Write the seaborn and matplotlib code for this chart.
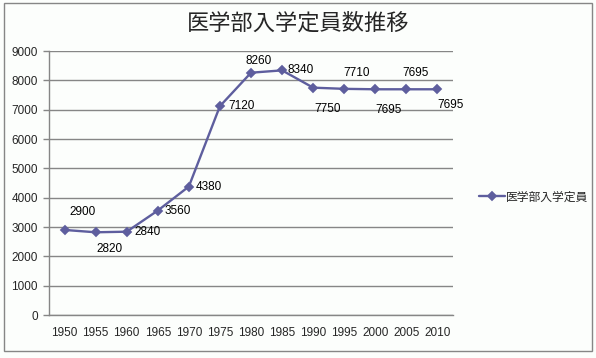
import matplotlib
matplotlib.use("Agg")
import matplotlib.pyplot as plt
from matplotlib.patches import Rectangle
from matplotlib.ticker import FixedLocator
import seaborn as sns

# データ
years = ["1950", "1955", "1960", "1965", "1970", "1975", "1980",
         "1985", "1990", "1995", "2000", "2005", "2010"]
capacity = [2900, 2820, 2840, 3560, 4380, 7120, 8260,
            8340, 7750, 7710, 7695, 7695, 7695]
# ラベル位置 (px オフセット)
label_dx = [18, 14, 21, 20, 20, 22, 8, 19, 14, 12, 13, 9, 13]
label_dy = [18, -17, 0, 0, 0, 0, 12, 0, -21, 16, -21, 16, -16]

title = "医学部入学定員数推移"
series_name = "医学部入学定員"
line_color = "#5E5E9E"
grid_color = "#868686"

sns.set_theme(style="white")
plt.rcParams['font.family'] = ['Liberation Sans', 'Noto Sans CJK JP']

fig = plt.figure(figsize=(5.96, 3.58), dpi=100, facecolor="#fcfefc")
ax = fig.add_axes([49 / 596, 1 - 315 / 358, (453 - 49) / 596, (315 - 51) / 358])
ax.set_facecolor("#fcfefc")

sns.pointplot(x=years, y=capacity, ax=ax, color=line_color, markers="D",
              markersize=4.5, linewidth=1.7, label=series_name, errorbar=None)

for i, (v, dx, dy) in enumerate(zip(capacity, label_dx, label_dy)):
    ax.annotate(str(v), (i, v), xytext=(dx, dy), textcoords="offset pixels",
                ha="center", va="center", fontsize=8.5, color="black")

ax.set_ylim(0, 9000)
ax.set_yticks(range(0, 9001, 1000))
ax.set_xlim(-0.5, len(years) - 0.5)
ax.xaxis.set_minor_locator(FixedLocator([i - 0.5 for i in range(len(years) + 1)]))
ax.tick_params(axis="x", which="major", length=0, pad=9, labelsize=8.5)
ax.tick_params(axis="x", which="minor", length=4, width=1, color=grid_color, direction="out")
ax.tick_params(axis="y", length=4, width=1, color=grid_color, direction="out", pad=4, labelsize=8.5, left=True)
ax.set_xlabel("")
ax.set_ylabel("")
ax.yaxis.grid(True, color=grid_color, linewidth=1)
ax.xaxis.grid(False)
for s in ["top", "right"]:
    ax.spines[s].set_visible(False)
for s in ["left", "bottom"]:
    ax.spines[s].set_color(grid_color)
    ax.spines[s].set_linewidth(1)

if ax.get_legend() is not None:
    ax.get_legend().remove()
handles, labels = ax.get_legend_handles_labels()
fig.legend(handles[:1], labels[:1], loc="center left", bbox_to_anchor=(468 / 596, 1 - 197 / 358),
           frameon=False, handlelength=2.2, handletextpad=0.1,
           prop={"family": ["Noto Sans CJK JP"], "size": 8.5})

fig.text(0.5, 1 - 23 / 358, title, ha="center", va="center", fontsize=16,
         family=["Noto Sans CJK JP"])

fig.patches.append(Rectangle((4 / 596, 1 - 351 / 358), 588 / 596, 348 / 358,
                             transform=fig.transFigure, fill=False,
                             edgecolor=grid_color, linewidth=1))

fig.savefig("out.png", dpi=100, facecolor=fig.get_facecolor())
